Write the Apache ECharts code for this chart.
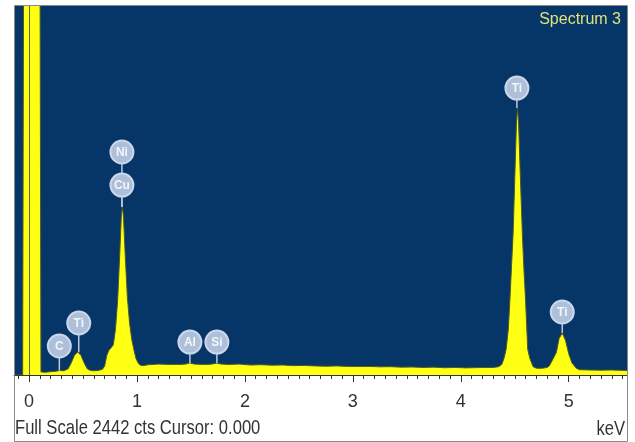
<!DOCTYPE html>
<html><head><meta charset="utf-8">
<script src="https://cdn.jsdelivr.net/npm/echarts@6/dist/echarts.min.js"></script>
<style>html,body{margin:0;padding:0;background:#fff}#c{width:635px;height:442px}</style>
</head><body><div id="c"></div>
<script>
// ---- data (keV, counts) ----
const energy = [-0.14,-0.06,-0.05,0.10,0.11,0.15,0.20,0.25,0.28,0.32,0.36,0.39,0.42,0.45,0.48,0.51,0.54,0.57,0.60,0.64,0.68,0.70,0.72,0.74,0.76,0.78,0.80,0.82,0.84,0.855,0.865,0.875,0.89,0.91,0.93,0.95,0.97,0.99,1.01,1.03,1.06,
  1.10,1.20,1.30,1.40,1.45,1.49,1.53,1.60,1.68,1.74,1.78,1.85,1.95,2.05,2.15,2.25,2.35,2.45,2.55,2.65,2.75,2.85,2.95,3.05,3.15,3.25,3.35,3.45,3.55,3.65,3.75,3.85,3.95,4.05,4.15,4.25,4.30,
  4.35,4.38,4.40,4.42,4.44,4.455,4.47,4.485,4.50,4.515,4.525,4.535,4.55,4.57,4.585,4.60,4.62,4.64,4.67,4.70,4.75,4.80,4.82,4.85,4.886,4.91,4.94,4.97,5.00,5.03,5.07,5.10,5.20,5.30,5.40,5.54];
const counts = [0,0,3000,3000,20,18,22,25,30,28,40,80,130,152,130,80,40,30,28,30,38,60,130,165,180,200,300,490,800,1060,1112,1040,800,520,350,240,170,110,80,65,62,
  68,72,70,70,72,80,72,70,71,78,72,70,72,66,68,65,66,62,63,60,58,60,57,56,57,54,55,52,53,50,52,48,50,47,49,50,50,
  55,70,110,170,300,496,720,940,1300,1650,1767,1680,1350,940,700,496,170,110,55,45,44,50,60,100,150,240,278,230,140,80,45,35,33,32,33,30];
// ---- peak labels ----
const peakNames = ['C','Ti','Ni','Cu','Al','Si','Ti','Ti'];
const peakEnergy = [0.28,0.46,0.86,0.86,1.49,1.74,4.52,4.94];
const peakTop = [30,150,1112,1112,80,78,1767,278];
const labelLevel = [192,344,1476,1257,218,218,1899,417];
// ---- axis / text ----
const xTickLabels = ['0','1','2','3','4','5'];
const fullScale = 2442;
const cursorKeV = 0.000;
const spectrumName = 'Spectrum 3';
const unitLabel = 'keV';

// layout
const L = 14, R = 627, T = 6, B = 375, X0 = -0.14, X1 = 5.54;
const px = e => L + (e - X0) / (X1 - X0) * (R - L);
const font = '"Liberation Sans", Arial, sans-serif';

const chart = echarts.init(document.getElementById('c'), null, {renderer: 'canvas'});
const hiddenY = i => ({gridIndex: i, type: 'value', min: 0, max: fullScale, show: false});
chart.setOption({
  animation: false,
  grid: [
    {left: L, top: T, width: R - L, height: B - T, show: true, backgroundColor: '#063567', borderWidth: 0},
    {left: px(-0.1), top: T, width: px(5.5) - px(-0.1), height: B - T},
    {left: px(0), top: T, width: px(5) - px(0), height: B - T}
  ],
  xAxis: [
    {gridIndex: 0, type: 'value', min: X0, max: X1, axisLine: {show: true, onZero: false, lineStyle: {color: '#333', width: 1}},
     axisTick: {show: false}, axisLabel: {show: false}, splitLine: {show: false}},
    {gridIndex: 1, type: 'value', min: -0.1, max: 5.5, interval: 0.1, axisLine: {show: false},
     axisTick: {show: true, length: 4, lineStyle: {color: '#333'}}, axisLabel: {show: false}, splitLine: {show: false}},
    {gridIndex: 2, type: 'value', min: 0, max: 5, interval: 1, axisLine: {show: false},
     axisTick: {show: true, length: 7, lineStyle: {color: '#333'}},
     axisLabel: {show: true, color: '#333', fontSize: 18, fontFamily: font, margin: 18, formatter: v => xTickLabels[Math.round(v)]},
     splitLine: {show: false}}
  ],
  yAxis: [hiddenY(0), hiddenY(1), hiddenY(2)],
  series: [
    {type: 'line', xAxisIndex: 0, yAxisIndex: 0, data: energy.map((e, i) => [e, counts[i]]),
     showSymbol: false, symbol: 'none', clip: true,
     lineStyle: {color: '#4b5a2a', width: 1}, areaStyle: {color: '#ffff14', opacity: 1},
     markLine: {silent: true, symbol: 'none', label: {show: false},
       lineStyle: {color: '#5a6428', width: 1, type: 'solid'}, data: [{xAxis: cursorKeV}]}, z: 2},
    {type: 'custom', xAxisIndex: 0, yAxisIndex: 0, z: 5,
     data: peakEnergy.map((e, i) => [e, peakTop[i], labelLevel[i], i]),
     encode: {x: 0, y: 1},
     renderItem: (params, api) => {
       const i = api.value(3);
       const p = api.coord([api.value(0), api.value(1)]);
       const c = api.coord([api.value(0), api.value(2)]);
       return {type: 'group', children: [
         {type: 'line', shape: {x1: p[0], y1: p[1], x2: c[0], y2: c[1]}, style: {stroke: '#bccadf', lineWidth: 1.5}},
         {type: 'circle', shape: {cx: c[0], cy: c[1], r: 11.5}, style: {fill: '#adbfd9', stroke: '#cbd7ea', lineWidth: 2}},
         {type: 'text', style: {text: peakNames[i], x: c[0], y: c[1] + 0.5, align: 'center', verticalAlign: 'middle',
           fill: '#f2f6fb', font: 'bold 12px ' + font}}
       ]};
     }}
  ],
  graphic: [
    {type: 'rect', shape: {x: L + 0.5, y: T - 0.5, width: R - L, height: 442 - T}, style: {fill: 'none', stroke: '#8a8a8a', lineWidth: 1}, z: 10},
    {type: 'text', x: R - 6, y: 20, z: 10, style: {text: spectrumName, font: '16px ' + font, fill: '#dde27a', textAlign: 'right', textVerticalAlign: 'middle'}},
    {type: 'text', x: L + 1, y: 429, scaleY: 1.2, z: 10, style: {text: 'Full Scale ' + fullScale + ' cts Cursor: ' + cursorKeV.toFixed(3), font: '16.6px ' + font, fill: '#333', textAlign: 'left', textVerticalAlign: 'middle'}},
    {type: 'text', x: R - 2, y: 430, scaleY: 1.2, z: 10, style: {text: unitLabel, font: '16.6px ' + font, fill: '#333', textAlign: 'right', textVerticalAlign: 'middle'}}
  ]
});
</script></body></html>
